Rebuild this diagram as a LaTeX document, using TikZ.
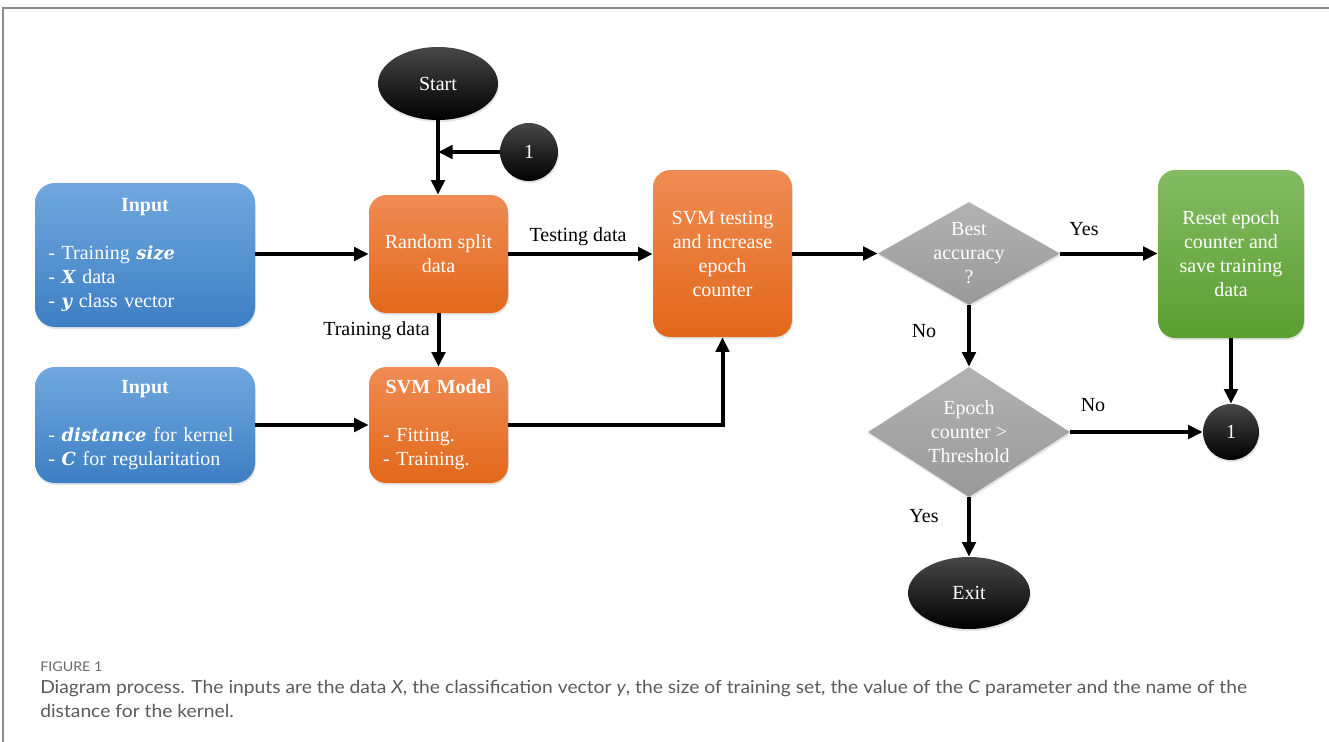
\documentclass[tikz,border=0pt]{standalone}
\usepackage{fontspec}
\setmainfont{Liberation Serif}
\newfontfamily\capfont[FakeStretch=1.07]{Lato}
\newfontfamily\mfont[Scale=0.9]{DejaVu Serif}
\newcommand{\mv}[1]{{\mfont\bfseries\itshape #1}}
\usetikzlibrary{arrows.meta,shapes.geometric,shadows}
\definecolor{bluetop}{HTML}{70A8DE}
\definecolor{bluebot}{HTML}{3D7FC4}
\definecolor{orangetop}{HTML}{EF8C54}
\definecolor{orangemid}{HTML}{F27A2A}
\definecolor{orangebot}{HTML}{E2681A}
\definecolor{greentop}{HTML}{84BB64}
\definecolor{greenbot}{HTML}{5A9E30}
\definecolor{graytop}{HTML}{B2B2B2}
\definecolor{graybot}{HTML}{999999}
\definecolor{framecol}{HTML}{8C8C8C}
\definecolor{captext}{HTML}{5A5A5A}
\definecolor{caphead}{HTML}{6A6A6A}
\begin{document}
\begin{tikzpicture}[x=0.75pt,y=-0.75pt,
  every node/.style={font=\fontsize{15}{18}\selectfont},
  shad/.style={drop shadow={opacity=0.22,shadow xshift=0.6pt,shadow yshift=-1.6pt}},
  inbox/.style={rectangle,rounded corners=15pt,top color=bluetop,bottom color=bluebot,
    text=white,inner sep=0pt,minimum width=165pt,text width=145pt,shad},
  obox/.style={rectangle,rounded corners=13pt,top color=orangetop,middle color=orangemid,
    bottom color=orangebot,text=white,align=center,inner sep=0pt,minimum width=104.25pt,shad},
  gbox/.style={rectangle,rounded corners=13pt,top color=greentop,bottom color=greenbot,
    text=white,align=center,inner sep=0pt,minimum width=109.5pt,minimum height=126pt,shad},
  term/.style={ellipse,top color=black!72,bottom color=black,text=white,inner sep=0pt,shad},
  conn/.style={circle,top color=black!72,bottom color=black,text=white,inner sep=0pt,shad},
  dec/.style={diamond,top color=graytop,bottom color=graybot,inner sep=0pt,shad},
  dectext/.style={text=white,align=center},
  arr/.style={-{Triangle[length=11pt,width=10pt]},line width=3pt},
  lbl/.style={text=black,inner sep=0pt}
]
\useasboundingbox (0,0) rectangle (1329,742);
\draw[framecol,line width=1.5pt] (3,742) -- (3,8) -- (1329,8);

% nodes
\node[term,minimum width=90pt,minimum height=54.75pt] (start) at (438,83.5) {Start};
\node[conn,minimum size=43.5pt] (c1) at (529,152) {1};

\node[inbox,minimum height=108pt] (in1) at (145,255) {%
  {\centering\textbf{Input}\par}\vspace{18pt}%
  {\raggedright - Training \mv{size}\\- \mv{X} data\\- \mv{y} class vector\par}};
\node[inbox,minimum height=87pt] (in2) at (145,425) {%
  {\centering\textbf{Input}\par}\vspace{18pt}%
  {\raggedright - \mv{distance} for kernel\\- \mv{C} for regularitation\par}};

\node[obox,minimum height=88.5pt] (rs) at (438.5,254) {Random split\\data};
\node[obox,minimum height=87pt,text width=83pt,align=left] (svm) at (438.5,425) {%
  {\centering\textbf{SVM Model}\par}\vspace{18pt}%
  {\raggedright - Fitting.\\- Training.\par}};
\node[obox,minimum height=125.25pt] (test) at (722.5,253.5) {SVM testing\\and increase\\epoch\\counter};

\node[dec,minimum width=136.5pt,minimum height=77.25pt,
  label={[dectext]center:{Best\\accuracy\\?}}] (best) at (969,253.5) {};
\node[dec,minimum width=151.5pt,minimum height=97.5pt,
  label={[dectext]center:{Epoch\\counter >\\Threshold}}] (epoch) at (969,432) {};

\node[gbox] (green) at (1231,254) {Reset epoch\\counter and\\save training\\data};
\node[conn,minimum size=42pt] (c2) at (1231,432) {1};
\node[term,minimum width=91.5pt,minimum height=54pt] (exit) at (969,593) {Exit};

% labels
\node[lbl] (ltest) at (578,237) {Testing data};
\node[lbl,anchor=east] (ltrain) at (430,331) {Training data};
\node[lbl] (lyes1) at (1084,229) {Yes};
\node[lbl] (lno1) at (924,331) {No};
\node[lbl] (lno2) at (1093,405) {No};
\node[lbl] (lyes2) at (924,516) {Yes};

% connectors
\draw[arr] (start.south) -- (start.south |- rs.north);
\draw[arr] (c1.west) -- (c1.west -| start.south);
\draw[arr] (in1.east |- rs.west) -- (rs.west);
\draw[arr] (rs.east) -- (rs.east -| test.west);
\draw[arr] (rs.south) -- (svm.north);
\draw[arr] (in2.east |- svm.west) -- (svm.west);
\draw[arr] (svm.east) -| (test.south);
\draw[arr] (test.east) -- (best.west);
\draw[arr] (best.east) -- (best.east -| green.west);
\draw[arr] (best.south) -- (epoch.north);
\draw[arr] (epoch.east) -- (c2.west);
\draw[arr] (green.south) -- (c2.north);
\draw[arr] (epoch.south) -- (exit.north);

% caption
\node[anchor=west,inner sep=0pt,text=caphead,font=\capfont\fontsize{10}{12}\selectfont] (fig) at (40,667) {FIGURE 1};
\node[anchor=north west,inner sep=0pt,align=left,text=captext,font=\capfont\fontsize{13.5}{18}\selectfont] (cap) at (40,680) {Diagram process. The inputs are the data \textit{X}, the classification vector \textit{y}, the size of training set, the value of the \textit{C} parameter and the name of the\\distance for the kernel.};
\end{tikzpicture}
\end{document}
